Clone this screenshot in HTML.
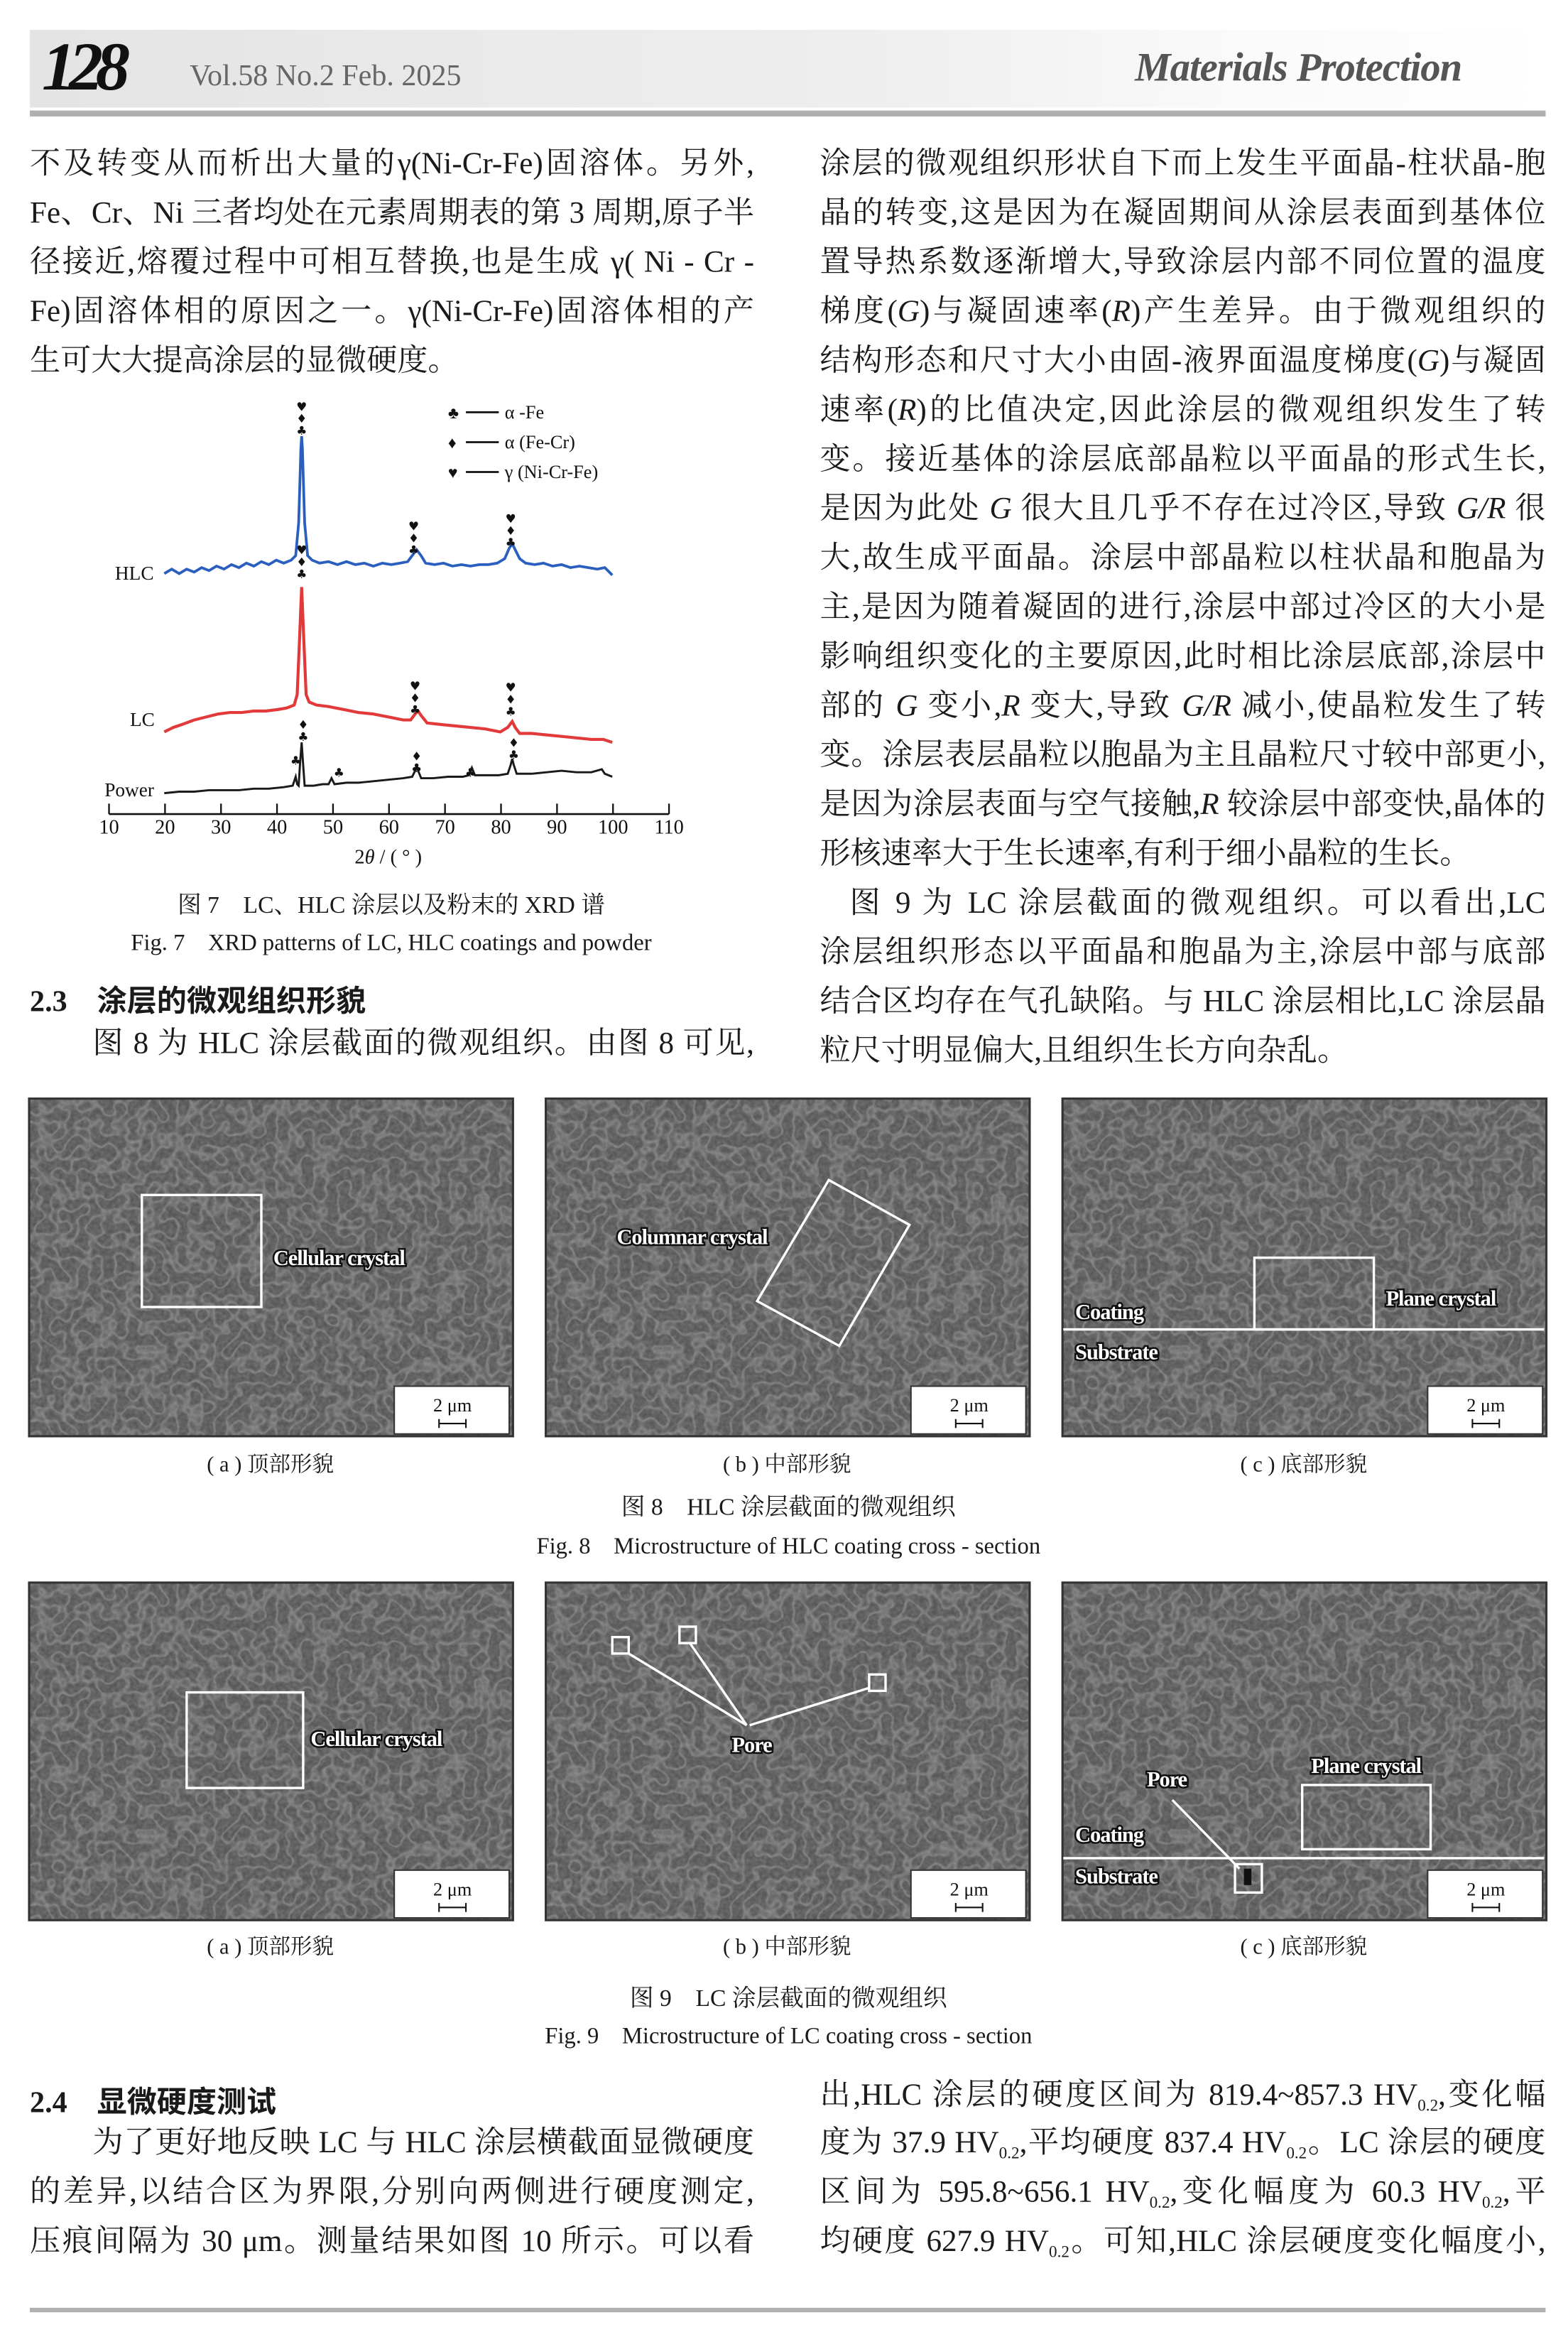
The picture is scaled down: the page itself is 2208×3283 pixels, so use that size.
<!DOCTYPE html>
<html><head><meta charset="utf-8">
<style>
html,body{margin:0;padding:0;background:#fff;}
body{width:2208px;height:3283px;overflow:hidden;position:relative;}
#pg{position:absolute;left:0;top:0;width:1050px;height:1561.2px;transform:scale(2.10286);transform-origin:0 0;font-family:"Liberation Serif","Noto Serif CJK SC",serif;color:#1a1a1a;}
.a{position:absolute;white-space:nowrap;}
.ln{position:absolute;font-size:20.5px;line-height:24px;height:24px;text-align:justify;text-align-last:justify;white-space:nowrap;}
.L{left:20px;width:485px;}
.R{left:549px;width:486px;}
.nl{text-align-last:left;}
.cap{position:absolute;font-size:16px;white-space:nowrap;transform:translateX(-50%);}
.sub{font-size:11px;vertical-align:-4px;}
</style></head><body><div id="pg">

<!-- header -->
<div class="a" style="left:20px;top:20px;width:1015px;height:52px;background:linear-gradient(90deg,#e4e4e4 0%,#eeeeee 55%,#fafafa 80%,#ffffff 100%);"></div>
<div class="a" style="left:20px;top:74px;width:1015px;height:4px;background:#b0b0b0;"></div>
<div class="a" style="left:28px;top:18px;font-size:46px;font-weight:bold;font-style:italic;letter-spacing:-5px;color:#111;">128</div>
<div class="a" style="left:127px;top:40px;font-size:20px;color:#666;">Vol.58 No.2 Feb. 2025</div>
<div class="a" style="left:760px;top:30px;font-size:27px;font-style:italic;font-weight:bold;color:#555;letter-spacing:-0.5px;">Materials Protection</div>

<div class="ln L" style="top:98px;">不及转变从而析出大量的γ(Ni-Cr-Fe)固溶体。另外,</div>
<div class="ln L" style="top:131px;">Fe、Cr、Ni 三者均处在元素周期表的第 3 周期,原子半</div>
<div class="ln L" style="top:164px;">径接近,熔覆过程中可相互替换,也是生成 γ( Ni - Cr -</div>
<div class="ln L" style="top:197px;">Fe)固溶体相的原因之一。γ(Ni-Cr-Fe)固溶体相的产</div>
<div class="ln L nl" style="top:230px;">生可大大提高涂层的显微硬度。</div>

<div class="ln R" style="top:98px;">涂层的微观组织形状自下而上发生平面晶-柱状晶-胞</div>
<div class="ln R" style="top:131px;">晶的转变,这是因为在凝固期间从涂层表面到基体位</div>
<div class="ln R" style="top:164px;">置导热系数逐渐增大,导致涂层内部不同位置的温度</div>
<div class="ln R" style="top:197px;">梯度(<i>G</i>)与凝固速率(<i>R</i>)产生差异。由于微观组织的</div>
<div class="ln R" style="top:230px;">结构形态和尺寸大小由固-液界面温度梯度(<i>G</i>)与凝固</div>
<div class="ln R" style="top:263px;">速率(<i>R</i>)的比值决定,因此涂层的微观组织发生了转</div>
<div class="ln R" style="top:296px;">变。接近基体的涂层底部晶粒以平面晶的形式生长,</div>
<div class="ln R" style="top:329px;">是因为此处 <i>G</i> 很大且几乎不存在过冷区,导致 <i>G/R</i> 很</div>
<div class="ln R" style="top:362px;">大,故生成平面晶。涂层中部晶粒以柱状晶和胞晶为</div>
<div class="ln R" style="top:395px;">主,是因为随着凝固的进行,涂层中部过冷区的大小是</div>
<div class="ln R" style="top:428px;">影响组织变化的主要原因,此时相比涂层底部,涂层中</div>
<div class="ln R" style="top:461px;">部的 <i>G</i> 变小,<i>R</i> 变大,导致 <i>G/R</i> 减小,使晶粒发生了转</div>
<div class="ln R" style="top:494px;">变。涂层表层晶粒以胞晶为主且晶粒尺寸较中部更小,</div>
<div class="ln R" style="top:527px;">是因为涂层表面与空气接触,<i>R</i> 较涂层中部变快,晶体的</div>
<div class="ln R nl" style="top:560px;">形核速率大于生长速率,有利于细小晶粒的生长。</div>
<div class="ln R" style="top:593px;left:569px;width:466px;">图 9 为 LC 涂层截面的微观组织。可以看出,LC</div>
<div class="ln R" style="top:626px;">涂层组织形态以平面晶和胞晶为主,涂层中部与底部</div>
<div class="ln R" style="top:659px;">结合区均存在气孔缺陷。与 HLC 涂层相比,LC 涂层晶</div>
<div class="ln R nl" style="top:692px;">粒尺寸明显偏大,且组织生长方向杂乱。</div>

<svg class="a" style="left:0;top:255px;" width="520" height="340" viewBox="0 255 520 340">
 <g font-family="Liberation Serif, serif" fill="#111">
  <text x="300" y="280" font-size="11">♣</text><line x1="312" y1="276" x2="334" y2="276" stroke="#111" stroke-width="1.3"/><text x="338" y="280" font-size="12.5">α -Fe</text>
  <text x="300" y="300" font-size="11">♦</text><line x1="312" y1="296" x2="334" y2="296" stroke="#111" stroke-width="1.3"/><text x="338" y="300" font-size="12.5">α (Fe-Cr)</text>
  <text x="300" y="320" font-size="11">♥</text><line x1="312" y1="316" x2="334" y2="316" stroke="#111" stroke-width="1.3"/><text x="338" y="320" font-size="12.5">γ (Ni-Cr-Fe)</text>
 </g>
 <polyline fill="none" stroke="#2a5fbf" stroke-width="1.8" points="110,384 115,381 120,384 125,381 130,383 135,380 140,382 145,379 150,381 155,378 160,380 165,377 170,379 175,376 180,378 185,375 190,377 195,375 198,372 200,350 201.5,300 202,292 202.5,300 204,350 206,372 209,375 214,377 220,376 226,378 232,376 238,378 244,377 250,379 256,377 262,378 268,377 273,376 276,372 279,368 282,372 285,377 291,378 297,377 303,379 309,378 315,379 321,378 327,378 333,377 338,374 341,367 343,364 345,368 348,374 352,377 358,378 364,377 370,379 376,378 382,380 388,379 394,380 400,381 405,380 410,385"/>
 <polyline fill="none" stroke="#e23a3a" stroke-width="2" points="110,490 116,487 122,485 130,482 138,480 146,478 154,477 162,477 170,476 178,476 186,475 192,474 197,472 199,465 200.5,430 202,393 203.5,430 205,465 207,470 212,472 220,473 230,475 240,477 250,478 260,480 270,482 275,482 278,478 280,476 282,479 286,484 295,485 305,486 315,487 325,488 335,490 340,487 343,483 345,487 348,491 356,491 366,492 376,493 386,494 396,495 404,495 410,497"/>
 <polyline fill="none" stroke="#1a1a1a" stroke-width="1.4" points="110,531 120,530 130,530 140,529 150,529 160,529 170,528 180,528 190,527 196,526 198,520 199,525 200,526 201,510 202,497 203,512 204,526 210,526 216,525 220,525 222,521 224,525 232,524 240,524 250,523 260,522 270,521 276,520 278,516 279,512 280,516 282,521 290,521 300,520 310,520 314,519 316,514 318,519 326,519 334,519 340,518 342,512 343,508 344,512 346,518 356,518 366,517 376,516 386,517 396,517 403,515 405,518 410,520"/>
 <g font-family="DejaVu Sans, sans-serif" fill="#111" font-size="8" text-anchor="middle">
  <text x="202" y="275">♥</text><text x="202" y="283">♦</text><text x="202" y="291">♣</text>
  <text x="277" y="355">♥</text><text x="277" y="363">♦</text><text x="277" y="371">♣</text>
  <text x="342" y="350">♥</text><text x="342" y="358">♦</text><text x="342" y="366">♣</text>
  <text x="202" y="371">♥</text><text x="202" y="379">♦</text><text x="202" y="387">♣</text>
  <text x="278" y="462">♥</text><text x="278" y="470">♦</text><text x="278" y="478">♣</text>
  <text x="342" y="463">♥</text><text x="342" y="471">♦</text><text x="342" y="479">♣</text>
  <text x="203" y="488">♦</text><text x="203" y="496">♣</text>
  <text x="198" y="512">♣</text><text x="227" y="520">♣</text>
  <text x="279" y="509">♦</text><text x="279" y="517">♣</text>
  <text x="315" y="520">♣</text>
  <text x="344" y="500">♦</text><text x="344" y="508">♣</text>
 </g>
 <g font-family="Liberation Serif, serif" fill="#111" font-size="13">
  <text x="77" y="388">HLC</text><text x="87" y="486">LC</text><text x="70" y="533">Power</text>
 </g>
 <line x1="73" y1="545" x2="448" y2="545" stroke="#111" stroke-width="1.2"/>
 <g stroke="#111" stroke-width="1.1">
  <line x1="73" y1="538" x2="73" y2="545"/><line x1="110.5" y1="538" x2="110.5" y2="545"/><line x1="148" y1="538" x2="148" y2="545"/><line x1="185.5" y1="538" x2="185.5" y2="545"/><line x1="223" y1="538" x2="223" y2="545"/><line x1="260.5" y1="538" x2="260.5" y2="545"/><line x1="298" y1="538" x2="298" y2="545"/><line x1="335.5" y1="538" x2="335.5" y2="545"/><line x1="373" y1="538" x2="373" y2="545"/><line x1="410.5" y1="538" x2="410.5" y2="545"/><line x1="448" y1="538" x2="448" y2="545"/>
 </g>
 <g font-family="Liberation Serif, serif" fill="#111" font-size="13.5" text-anchor="middle">
  <text x="73" y="558">10</text><text x="110.5" y="558">20</text><text x="148" y="558">30</text><text x="185.5" y="558">40</text><text x="223" y="558">50</text><text x="260.5" y="558">60</text><text x="298" y="558">70</text><text x="335.5" y="558">80</text><text x="373" y="558">90</text><text x="410.5" y="558">100</text><text x="448" y="558">110</text>
  <text x="260" y="578" font-size="13.5">2<tspan font-style="italic">θ</tspan> / ( ° )</text>
 </g>
</svg>
<div class="cap" style="left:262px;top:593px;">图 7　LC、HLC 涂层以及粉末的 XRD 谱</div>
<div class="cap" style="left:262px;top:619px;font-size:15.5px;">Fig. 7　XRD patterns of LC, HLC coatings and powder</div>

<div class="a" style="left:20px;top:654px;font-size:20px;font-weight:bold;font-family:'Liberation Serif','Noto Sans CJK SC',sans-serif;">2.3　涂层的微观组织形貌</div>
<div class="ln L" style="top:687px;left:62px;width:443px;">图 8 为 HLC 涂层截面的微观组织。由图 8 可见,</div>

<svg class="a" style="left:0;top:0;" width="1050" height="1561" viewBox="0 0 1050 1561">
 <defs>
  <filter id="tx" x="0" y="0" width="1" height="1">
   <feTurbulence type="fractalNoise" baseFrequency="0.35" numOctaves="2" seed="3" result="n"/>
   <feColorMatrix in="n" type="matrix" values="0 0 0 0 0.25  0 0 0 0 0.25  0 0 0 0 0.25  0 0 0 -1.5 1.1"/>
  </filter>
  <filter id="tx2" x="0" y="0" width="1" height="1">
   <feTurbulence type="turbulence" baseFrequency="0.12" numOctaves="1" seed="8" result="n"/>
   <feColorMatrix in="n" type="matrix" values="0 0 0 0 0.62  0 0 0 0 0.62  0 0 0 0 0.62  0 0 0 -3 0.55"/>
  </filter>
  <g id="semb">
   <rect width="325" height="227" fill="#585858"/>
   <rect width="325" height="227" filter="url(#tx)" opacity="0.6"/>
   <rect width="325" height="227" filter="url(#tx2)" opacity="0.55"/>
   <rect x="0.5" y="0.5" width="324" height="226" fill="none" stroke="#333" stroke-width="1.5"/>
   <rect x="245" y="193" width="77" height="32" fill="#fff" stroke="#333" stroke-width="1"/>
   <text x="284" y="210" font-family="Liberation Serif, serif" font-size="12.5" text-anchor="middle" fill="#111">2 μm</text>
   <line x1="275" y1="218" x2="293" y2="218" stroke="#111" stroke-width="1"/>
   <line x1="275" y1="215" x2="275" y2="221" stroke="#111"/><line x1="293" y1="215" x2="293" y2="221" stroke="#111"/>
  </g>
 </defs>
 <use href="#semb" x="19" y="735"/><use href="#semb" x="365" y="735"/><use href="#semb" x="711" y="735"/>
 <use href="#semb" x="19" y="1059"/><use href="#semb" x="365" y="1059"/><use href="#semb" x="711" y="1059"/>
 <g fill="none" stroke="#fff" stroke-width="1.6">
  <rect x="95" y="800" width="80" height="75"/>
  <polygon points="555,790 609,820 562,901 507,871"/>
  <line x1="712" y1="890" x2="1034" y2="890"/>
  <rect x="840" y="842" width="80" height="48"/>
  <rect x="125" y="1133" width="78" height="64"/>
  <rect x="410" y="1096" width="11" height="11"/><rect x="455" y="1089" width="11" height="11"/><rect x="582" y="1121" width="11" height="11"/>
  <line x1="421" y1="1107" x2="500" y2="1155"/><line x1="462" y1="1100" x2="500" y2="1155"/><line x1="582" y1="1130" x2="502" y2="1155"/>
  <line x1="712" y1="1244" x2="1034" y2="1244"/>
  <rect x="872" y="1195" width="86" height="43"/>
  <line x1="785" y1="1205" x2="830" y2="1251"/>
  <rect x="827" y="1248" width="18" height="19"/>
 </g>
 <rect x="833" y="1251" width="5" height="11" fill="#111"/>
 <g font-family="Liberation Serif, serif" font-size="14.5" font-weight="bold" fill="#fff" stroke="#111" stroke-width="2.5" paint-order="stroke" letter-spacing="-0.5">
  <text x="183" y="847">Cellular crystal</text>
  <text x="413" y="833">Columnar crystal</text>
  <text x="928" y="874">Plane crystal</text>
  <text x="720" y="883">Coating</text>
  <text x="720" y="910">Substrate</text>
  <text x="208" y="1169">Cellular crystal</text>
  <text x="490" y="1173">Pore</text>
  <text x="878" y="1187">Plane crystal</text>
  <text x="768" y="1196">Pore</text>
  <text x="720" y="1233">Coating</text>
  <text x="720" y="1261">Substrate</text>
 </g>
</svg>

<div class="cap" style="left:181px;top:969px;font-size:14.5px;">( a ) 顶部形貌</div>
<div class="cap" style="left:527px;top:969px;font-size:14.5px;">( b ) 中部形貌</div>
<div class="cap" style="left:873px;top:969px;font-size:14.5px;">( c ) 底部形貌</div>
<div class="cap" style="left:528px;top:996px;">图 8　HLC 涂层截面的微观组织</div>
<div class="cap" style="left:528px;top:1023px;font-size:15.5px;">Fig. 8　Microstructure of HLC coating cross - section</div>

<div class="cap" style="left:181px;top:1292px;font-size:14.5px;">( a ) 顶部形貌</div>
<div class="cap" style="left:527px;top:1292px;font-size:14.5px;">( b ) 中部形貌</div>
<div class="cap" style="left:873px;top:1292px;font-size:14.5px;">( c ) 底部形貌</div>
<div class="cap" style="left:528px;top:1325px;">图 9　LC 涂层截面的微观组织</div>
<div class="cap" style="left:528px;top:1351px;font-size:15.5px;">Fig. 9　Microstructure of LC coating cross - section</div>

<div class="a" style="left:20px;top:1391px;font-size:20px;font-weight:bold;font-family:'Liberation Serif','Noto Sans CJK SC',sans-serif;">2.4　显微硬度测试</div>
<div class="ln L" style="top:1423px;left:62px;width:443px;">为了更好地反映 LC 与 HLC 涂层横截面显微硬度</div>
<div class="ln L" style="top:1456px;">的差异,以结合区为界限,分别向两侧进行硬度测定,</div>
<div class="ln L" style="top:1489px;">压痕间隔为 30 μm。测量结果如图 10 所示。可以看</div>
<div class="ln R" style="top:1391px;">出,HLC 涂层的硬度区间为 819.4~857.3 HV<span class="sub">0.2</span>,变化幅</div>
<div class="ln R" style="top:1423px;">度为 37.9 HV<span class="sub">0.2</span>,平均硬度 837.4 HV<span class="sub">0.2</span>。LC 涂层的硬度</div>
<div class="ln R" style="top:1456px;">区间为 595.8~656.1 HV<span class="sub">0.2</span>,变化幅度为 60.3 HV<span class="sub">0.2</span>,平</div>
<div class="ln R" style="top:1489px;">均硬度 627.9 HV<span class="sub">0.2</span>。可知,HLC 涂层硬度变化幅度小,</div>

<div class="a" style="left:20px;top:1545px;width:1015px;height:3px;background:#b0b0b0;"></div>
</div></body></html>
